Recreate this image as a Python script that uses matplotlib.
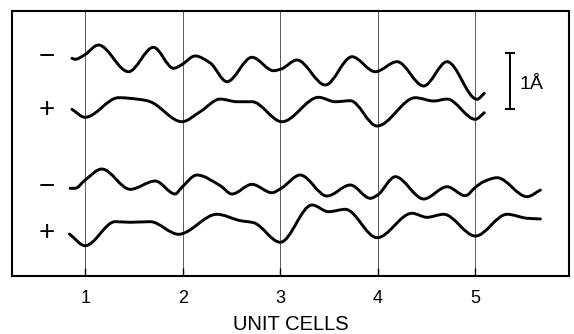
import numpy as np
import matplotlib
matplotlib.use('Agg')
import matplotlib.pyplot as plt
from matplotlib.path import Path
from matplotlib.patches import PathPatch

plt.rcParams['font.family'] = ['Liberation Sans', 'DejaVu Sans']

# ---- data (x in unit cells, displacement in Å relative to each trace baseline) ----
x_a = [0.864, 0.897, 0.993, 1.136, 1.444, 1.700, 1.906, 1.985, 2.128, 2.282, 2.453,
       2.710, 2.931, 3.010, 3.171, 3.462, 3.735, 3.974, 4.197, 4.470, 4.710, 5.017, 5.092]
d_a = [-0.023, -0.041, 0.036, 0.214, -0.263, 0.173, -0.202, -0.143, 0.018, -0.107, -0.441,
       -0.005, -0.245, -0.214, -0.054, -0.500, 0.005, -0.263, -0.084, -0.518, -0.084, -0.755, -0.648]

x_b = [0.864, 1.000, 1.342, 1.598, 1.667, 1.992, 2.179, 2.385, 2.556, 2.710, 3.017,
       3.393, 3.564, 3.718, 3.992, 4.385, 4.572, 4.710, 5.000, 5.092]
d_b = [0.013, -0.130, 0.220, 0.179, 0.148, -0.209, -0.030, 0.196, 0.148, 0.148, -0.209,
       0.227, 0.148, 0.166, -0.286, 0.220, 0.161, 0.196, -0.166, -0.048]

x_c = [0.846, 0.897, 1.000, 1.171, 1.462, 1.718, 1.923, 1.985, 2.146, 2.385, 2.505,
       2.710, 2.915, 3.010, 3.205, 3.479, 3.718, 3.923, 3.998, 4.179, 4.470, 4.710,
       4.897, 5.007, 5.085, 5.223, 5.530, 5.667]
d_c = [-0.023, -0.023, 0.125, 0.321, -0.041, 0.107, -0.125, -0.018, 0.214, 0.023, -0.125,
       0.048, -0.102, -0.023, 0.214, -0.161, 0.036, -0.202, -0.143, 0.184, -0.214, 0.005,
       -0.155, 0.005, 0.095, 0.166, -0.173, -0.054]

x_d = [0.839, 1.000, 1.308, 1.462, 1.667, 1.957, 2.351, 2.590, 2.726, 3.000, 3.325,
       3.495, 3.667, 3.992, 4.351, 4.504, 4.675, 5.000, 5.325, 5.530, 5.667]
d_d = [-0.018, -0.227, 0.202, 0.191, 0.202, -0.023, 0.334, 0.220, 0.184, -0.166, 0.500,
       0.380, 0.423, -0.084, 0.352, 0.280, 0.334, -0.054, 0.334, 0.263, 0.250]

trace_x = [x_a, x_b, x_c, x_d]
trace_d = [d_a, d_b, d_c, d_d]
baselines = [3.911, 2.964, 1.589, 0.768]
signs = ['\u2212', '+', '\u2212', '+']

unit_cells = [1, 2, 3, 4, 5]
tick_labels = ['1', '2', '3', '4', '5']
scale_len = 1.0  # Å


def pchip_slopes(x, y):
    h = np.diff(x)
    delta = np.diff(y) / h
    n = len(x)
    m = np.zeros(n)
    for k in range(1, n - 1):
        if delta[k - 1] * delta[k] <= 0:
            m[k] = 0.0
        else:
            w1 = 2 * h[k] + h[k - 1]
            w2 = h[k] + 2 * h[k - 1]
            m[k] = (w1 + w2) / (w1 / delta[k - 1] + w2 / delta[k])
    m[0] = delta[0]
    m[-1] = delta[-1]
    return m


def smooth_path(xs, ys):
    x = np.asarray(xs, float)
    y = np.asarray(ys, float)
    m = pchip_slopes(x, y)
    verts = [(x[0], y[0])]
    codes = [Path.MOVETO]
    for i in range(len(x) - 1):
        h = x[i + 1] - x[i]
        verts += [(x[i] + h / 3, y[i] + m[i] * h / 3),
                  (x[i + 1] - h / 3, y[i + 1] - m[i + 1] * h / 3),
                  (x[i + 1], y[i + 1])]
        codes += [Path.CURVE4] * 3
    return Path(verts, codes)


fig = plt.figure(figsize=(5.74, 3.34), dpi=100)
ax = fig.add_axes([0.0209, 0.1737, 0.9704, 0.7933])
ax.set_xlim(0.25, 5.96)
ax.set_ylim(0, 4.732)

for xu in unit_cells:
    ax.axvline(xu, color='#5a5a5a', lw=0.7, zorder=1)

for xs, ds, base, s in zip(trace_x, trace_d, baselines, signs):
    ys = np.asarray(ds) + base
    ax.add_patch(PathPatch(smooth_path(xs, ys), facecolor='none', edgecolor='black',
                           lw=2.1, capstyle='round', joinstyle='round', zorder=3))
    ax.text(0.61, base, s, ha='center', va='center', fontsize=20, color='black')

# scale bar
xb = 5.359
yb0 = 2.982
ax.plot([xb, xb], [yb0, yb0 + scale_len], color='black', lw=1.4)
ax.plot([xb - 0.04, xb + 0.04], [yb0, yb0], color='black', lw=1.4)
ax.plot([xb - 0.04, xb + 0.04], [yb0 + scale_len, yb0 + scale_len], color='black', lw=1.4)
ax.text(5.455, yb0 + scale_len / 2 - 0.06, '1Å', ha='left', va='center', fontsize=14)

ax.set_xticks(unit_cells)
ax.set_xticklabels(tick_labels, fontsize=13)
ax.set_yticks([])
ax.tick_params(axis='x', direction='in', length=6, width=1, pad=10)
for sp in ax.spines.values():
    sp.set_linewidth(1.5)
ax.set_xlabel('UNIT CELLS', fontsize=14.5, labelpad=5.5)

fig.savefig('out.png', dpi=100)
